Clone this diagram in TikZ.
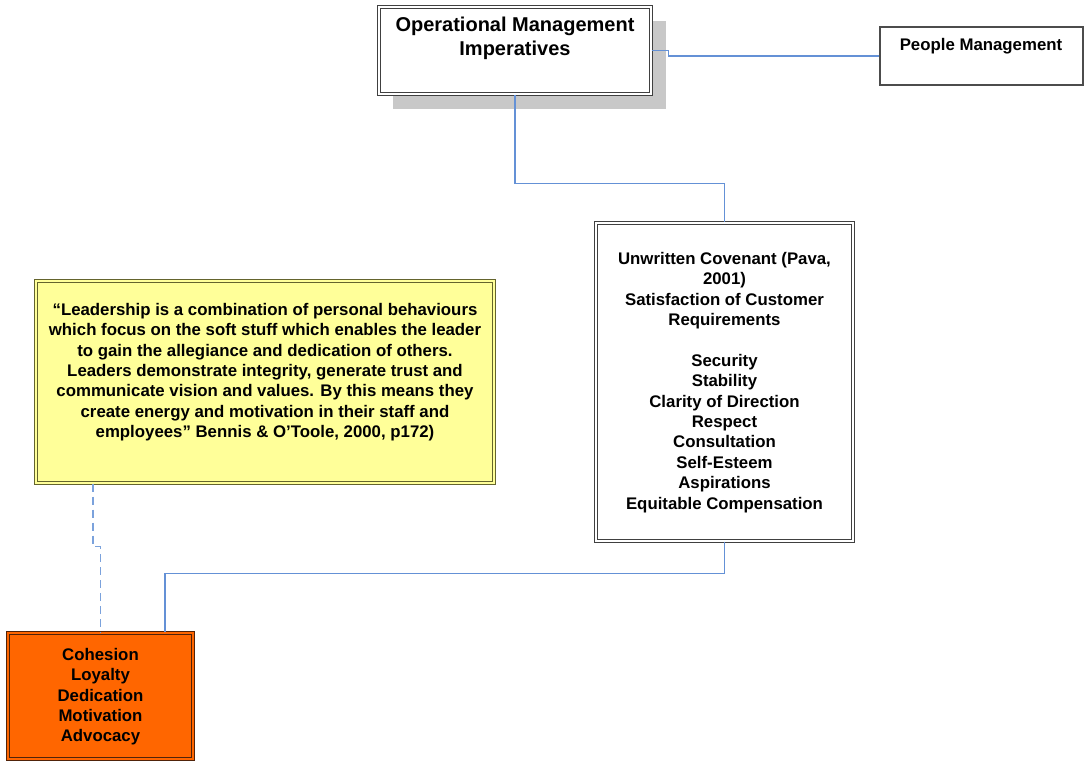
\documentclass[tikz,border=0pt]{standalone}
\usepackage{fontspec}
\setmainfont{Liberation Sans}
\usetikzlibrary{calc}

\definecolor{connblue}{RGB}{100,145,214}
\definecolor{shadowgray}{RGB}{200,200,200}
\definecolor{quoteyellow}{RGB}{255,255,153}
\definecolor{quoteedge}{RGB}{100,100,45}
\definecolor{hotorange}{RGB}{255,102,0}
\definecolor{orangeedge}{RGB}{80,35,10}

\tikzset{
  conn/.style={draw=connblue, line width=1.4pt},
  dashconn/.style={draw=connblue!85, line width=1.5pt, dash pattern=on 8pt off 5pt},
  dblbox/.style={draw=black!75, line width=1.1pt, double=#1, double distance=1.6pt,
                 inner sep=0pt, fill=#1},
  plainbox/.style={draw=black!70, line width=1.1pt, fill=white, inner sep=0pt},
  txt/.style={inner sep=0pt, align=center, anchor=north,
              font=\bfseries\fontsize{16.8}{20.4}\selectfont},
  bigtxt/.style={inner sep=0pt, align=center, anchor=north,
                 font=\bfseries\fontsize{20}{24}\selectfont},
}

\begin{document}
\begin{tikzpicture}[x=1pt, y=-1pt]
\useasboundingbox (0,0) rectangle (1088,766);

% drop shadow behind the top box
\fill[shadowgray] (393,21) rectangle (666,109);

% boxes
\node[dblbox=white, minimum width=272pt, minimum height=87pt] (omi) at (515,50.5) {};
\node[plainbox, minimum width=203pt, minimum height=58pt] (pm) at (981.5,56) {};
\node[dblbox=white, minimum width=257pt, minimum height=318pt] (cov) at (724.5,382) {};
\node[dblbox=quoteyellow, draw=quoteedge, minimum width=458pt, minimum height=202pt] (yel) at (265,382) {};
\node[dblbox=hotorange, draw=orangeedge, minimum width=185pt, minimum height=126pt] (org) at (100.5,696) {};

% texts
\node[bigtxt] (omitxt) at (515,17) {Operational Management\\Imperatives};
\node[txt] (pmtxt) at (981,38) {People Management};
\node[txt] (covtxt) at (724.5,252) {Unwritten Covenant (Pava,\\2001)\\Satisfaction of Customer\\Requirements\\[20.4pt]
  Security\\Stability\\Clarity of Direction\\Respect\\Consultation\\Self-Esteem\\Aspirations\\Equitable Compensation};
\node[txt] (yeltxt) at (265,303) {“Leadership is a combination of personal behaviours\\
  which focus on the soft stuff which enables the leader\\
  to gain the allegiance and dedication of others.\\
  Leaders demonstrate integrity, generate trust and\\
  communicate vision and values. By this means they\\
  create energy and motivation in their staff and\\
  employees” Bennis \& O’Toole, 2000, p172)};
\node[txt] (orgtxt) at (100.5,648) {Cohesion\\Loyalty\\Dedication\\Motivation\\Advocacy};

% connectors
\draw[conn] (omi.east) -- ++(17,0) |- (pm.west);
\draw[conn] (omi.south) -- ++(0,89) -| (cov.north);
\draw[conn] (cov.south) -- ++(0,32) -| ([xshift=64.5pt]org.north);
\draw[dashconn] ([xshift=-172pt]yel.south) -- ++(0,63) -| (org.north);
\end{tikzpicture}
\end{document}
